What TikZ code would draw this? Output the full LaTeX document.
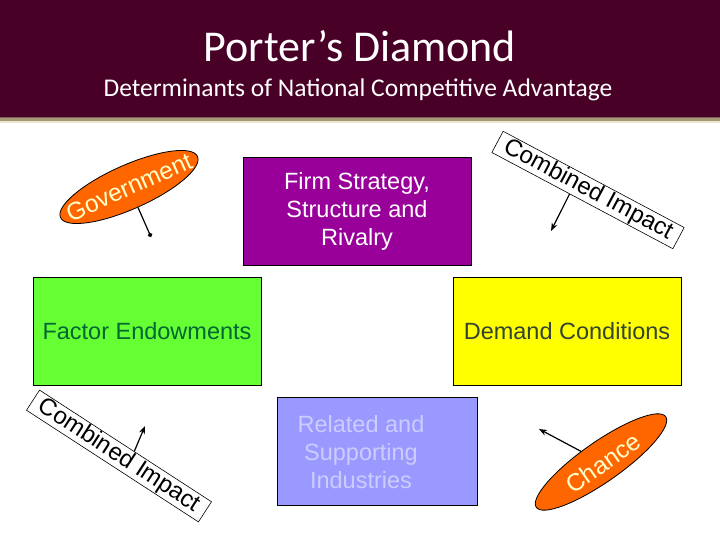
\documentclass[tikz,border=0pt]{standalone}
\usepackage{fontspec}
\setmainfont{Liberation Sans}
\newfontfamily\titlefont{Carlito}
\usetikzlibrary{shapes.geometric,arrows.meta,calc}
\definecolor{maroonbar}{RGB}{73,0,39}
\definecolor{stripedark}{RGB}{120,95,80}
\definecolor{stripetan}{RGB}{168,152,122}
\definecolor{stripecream}{RGB}{236,230,205}
\definecolor{firmfill}{RGB}{153,0,153}
\definecolor{factorfill}{RGB}{102,255,51}
\definecolor{factortext}{RGB}{0,102,51}
\definecolor{demandfill}{RGB}{255,255,0}
\definecolor{demandtext}{RGB}{51,68,51}
\definecolor{relfill}{RGB}{153,153,255}
\definecolor{reltext}{RGB}{204,204,255}
\definecolor{orangefill}{RGB}{255,102,0}
\definecolor{creamtext}{RGB}{255,255,204}
\tikzset{
  box/.style={draw=black, line width=0.9pt, minimum width=228, minimum height=108, inner sep=0pt, align=center,
    font=\fontsize{23.5}{28}\selectfont},
  oval/.style={ellipse, draw=black, line width=0.8pt, fill=orangefill, inner sep=0pt},
  ovaltext/.style={text=creamtext, font=\fontsize{24.5}{28}\selectfont, inner sep=0pt},
  cibox/.style={draw=black, line width=0.6pt, minimum width=205, minimum height=24, inner sep=0pt,
    font=\fontsize{24}{28}\selectfont},
  conn/.style={line width=1.2pt, -{Stealth[length=8pt,width=6pt]}},
  dotconn/.style={line width=1.2pt, -{Circle[length=4.5pt]}}
}
\begin{document}
\begin{tikzpicture}[x=1pt,y=-1pt]
\useasboundingbox (0,0) rectangle (720,540);
\fill[white] (0,0) rectangle (720,540);
% title bar
\fill[maroonbar] (0,0) rectangle (720,117);
\fill[stripedark] (0,117) rectangle (720,118.5);
\fill[stripetan] (0,118.5) rectangle (720,121.5);
\fill[stripecream] (0,121.5) rectangle (720,123.5);
\node[text=white, anchor=base, inner sep=0pt, font=\titlefont\fontsize{44}{50}\selectfont] (title) at (360,62) {Porter’s Diamond};
\node[text=white, anchor=base, inner sep=0pt, font=\titlefont\fontsize{25.5}{28}\selectfont] (subtitle) at (358,97) {Determinants of National Competitive Advantage};
% four determinants
\node[box, fill=firmfill, text=white] (firm) at (357,211) {Firm Strategy,\\Structure and\\Rivalry};
\node[box, fill=factorfill, text=factortext] (factor) at (147,331) {Factor Endowments};
\node[box, fill=demandfill, text=demandtext] (demand) at (567,331) {Demand Conditions};
\node[box, fill=relfill, minimum width=200] (rel) at (377,451) {};
\node[align=center, text=reltext, inner sep=0pt, font=\fontsize{23.5}{28}\selectfont] (reltxt) at (361,452) {Related and\\Supporting\\Industries};
% government
\node[oval, minimum width=150, minimum height=44, rotate=24] (gov) at (129,187) {};
\node[ovaltext, rotate=24] (govtxt) at (129,187) {Government};
\coordinate (govend) at (151,237);
\draw[dotconn] (gov) -- (govend);
% chance
\node[oval, minimum width=158, minimum height=40, rotate=35] (chance) at (601,462) {};
\node[ovaltext, rotate=35] (chtxt) at (603,463) {Chance};
\coordinate (chend) at (539,429);
\draw[conn] (chance) -- (chend);
% combined impact boxes
\node[cibox, rotate=-28] (ci1) at (588,190) {Combined Impact};
\coordinate (ci1end) at (551,231);
\draw[conn] ($(ci1.south west)!0.43!(ci1.south east)$) -- (ci1end);
\node[cibox, rotate=-33] (ci2) at (119,456) {Combined Impact};
\coordinate (ci2end) at (145,426);
\draw[conn] ($(ci2.north west)!0.55!(ci2.north east)$) -- (ci2end);
\end{tikzpicture}
\end{document}
